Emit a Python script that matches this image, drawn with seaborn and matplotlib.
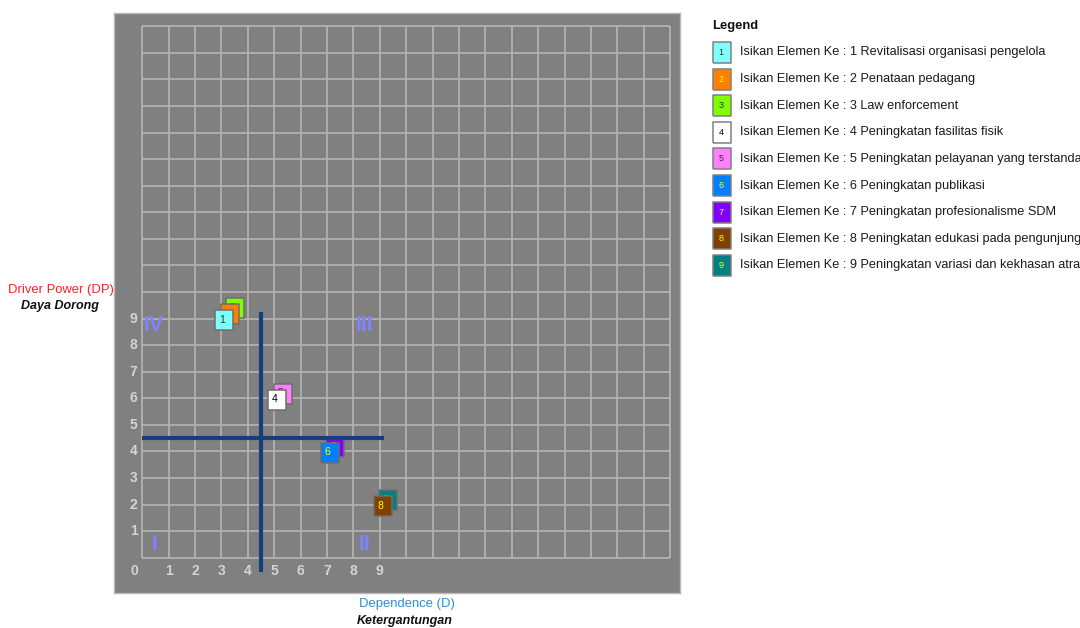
import numpy as np
import matplotlib
matplotlib.use("Agg")
import matplotlib.pyplot as plt
import matplotlib.transforms as mtransforms
import seaborn as sns

# ---------------- data ----------------
elements = [1, 2, 3, 4, 5, 6, 7, 8, 9]
# legend names as far as they are visible in the reference (cut at the right edge)
element_names = [
    "Revitalisasi organisasi pengelola",
    "Penataan pedagang",
    "Law enforcement",
    "Peningkatan fasilitas fisik",
    "Peningkatan pelayanan yang terstanda",
    "Peningkatan publikasi",
    "Peningkatan profesionalisme SDM",
    "Peningkatan edukasi pada pengunjung",
    "Peningkatan variasi dan kekhasan atra",
]
dependence = [3, 3, 3, 5, 5, 7, 7, 9, 9]
driver_power = [9, 9, 9, 6, 6, 4, 4, 2, 2]
box_colors = ["#80ffff", "#ff8000", "#80ff00", "#ffffff", "#ff80ff",
              "#0080ff", "#8000ff", "#804000", "#008080"]
number_colors = ["#303030", "#ffff00", "#303030", "#000000", "#303030",
                 "#ffff00", "#ffff00", "#ffff00", "#ffff00"]
tick_values = list(range(10))
grid_values = list(range(21))
quadrant_names = ["IV", "III", "I", "II"]
quadrant_x = [0.45, 8.42, 0.45, 8.42]
quadrant_y = [8.75, 8.75, 0.5, 0.5]
split_value = 4.5

plt.rcParams['font.family'] = ['Liberation Sans', 'DejaVu Sans']

W, H = 1080, 628
fig = plt.figure(figsize=(W / 100, H / 100), dpi=100)
fig.patch.set_facecolor("white")


def px_rect(x0, y0, x1, y1):
    return [x0 / W, 1 - y1 / H, (x1 - x0) / W, (y1 - y0) / H]


def fig_xy(x, y):
    return x / W, 1 - y / H


# ---------------- main panel ----------------
ax = fig.add_axes(px_rect(114, 13, 680, 593))
ax.set_facecolor("#808080")
ax.set_xticks([])
ax.set_yticks([])
for sp in ax.spines.values():
    sp.set_color("#b8b8b8")
    sp.set_linewidth(1.0)

ax.vlines(grid_values, 0, 20, colors="#b6b6b6", lw=1.2, zorder=1)
ax.hlines(grid_values, 0, 20, colors="#b6b6b6", lw=1.2, zorder=1)

tick_color = "#d4d4d4"
for v in tick_values:
    if v == 0:
        ax.text(-0.31, -0.5, "0", ha="center", va="center", fontsize=10,
                fontweight="bold", color=tick_color)
        continue
    ax.text(v, -0.5, str(v), ha="center", va="center", fontsize=10,
            fontweight="bold", color=tick_color)
    ax.text(-0.33, v, str(v), ha="center", va="center", fontsize=10,
            fontweight="bold", color=tick_color)

for name, qx, qy in zip(quadrant_names, quadrant_x, quadrant_y):
    ax.text(qx, qy, name, ha="center", va="center", fontsize=15.5,
            fontweight="bold", color="#8282ff", zorder=2)

# quadrant dividing lines
line_color = "#143f7c"
ax.plot([split_value, split_value], [-0.55, 9.25], color=line_color, lw=3.0,
        solid_capstyle="butt", zorder=50)
ax.plot([0, 9.15], [split_value, split_value], color=line_color, lw=3.0,
        solid_capstyle="butt", zorder=50)

# rectangular marker (slightly taller than wide)
box_marker = np.array([(-0.43, -0.5), (0.43, -0.5), (0.43, 0.5), (-0.43, 0.5), (-0.43, -0.5)])
box_size = (20.8 * 0.72) ** 2

# stacking rank for identical positions
ranks = []
for i in range(len(elements)):
    r = sum(1 for j in range(i) if dependence[j] == dependence[i] and driver_power[j] == driver_power[i])
    ranks.append(r)

z = 10
for i in reversed(range(len(elements))):
    r = ranks[i]
    tr = mtransforms.offset_copy(ax.transData, fig=fig, x=3 + 5.3 * r,
                                 y=-1.5 + 5.8 * r, units="dots")
    sns.scatterplot(x=[dependence[i]], y=[driver_power[i]], ax=ax,
                    marker=box_marker, s=box_size, color=box_colors[i],
                    edgecolor="#6e6e6e", linewidth=1.1, zorder=z,
                    transform=tr, legend=False)
    trt = mtransforms.offset_copy(ax.transData, fig=fig, x=0.5 + 5.3 * r,
                                  y=-1.0 + 5.8 * r, units="dots")
    ax.text(dependence[i], driver_power[i], str(elements[i]), transform=trt,
            ha="center", va="center", fontsize=7.5, color=number_colors[i],
            zorder=z + 0.5)
    z += 1

ax.set_xlabel("")
ax.set_ylabel("")
ax.set_xlim(-1.073, 20.375)
ax.set_ylim(-1.329, 20.50)

# ---------------- axis titles ----------------
fig.text(*fig_xy(60.5, 290), "Driver Power (DP)", color="#ff2020",
         fontsize=9.4, ha="center", va="center")
fig.text(*fig_xy(60, 306), "Daya Dorong", color="#111111", fontsize=9.0,
         fontweight="bold", fontstyle="italic", ha="center", va="center")
fig.text(*fig_xy(406.5, 604), "Dependence (D)", color="#2a8fd6",
         fontsize=9.4, ha="center", va="center")
fig.text(*fig_xy(405, 621), "Ketergantungan", color="#111111", fontsize=9.0,
         fontweight="bold", fontstyle="italic", ha="center", va="center")

# ---------------- legend ----------------
lax = fig.add_axes(px_rect(700, 0, 1080, 628))
leg_y = [52.5 + 26.6 * k for k in range(len(elements))]
sns.scatterplot(x=[722.2] * len(elements), y=leg_y, hue=[str(e) for e in elements],
                palette=box_colors, marker=box_marker, s=box_size,
                edgecolor="#808080", linewidth=1.1, ax=lax, legend=False, zorder=5)
lax.set_xlim(700, 1080)
lax.set_ylim(628, 0)
lax.axis("off")
lax.text(712, 26, "Legend", fontsize=9.4, fontweight="bold", color="#111111",
         ha="left", va="center")
for k, e in enumerate(elements):
    lax.text(721.2, leg_y[k], str(e), fontsize=6.5, color=number_colors[k],
             ha="center", va="center", zorder=6)
    lax.text(740, leg_y[k], f"Isikan Elemen Ke : {e} {element_names[k]}",
             fontsize=9.15, color="#1a1a1a", ha="left", va="center")

fig.savefig("out.png", dpi=100, facecolor="white")
